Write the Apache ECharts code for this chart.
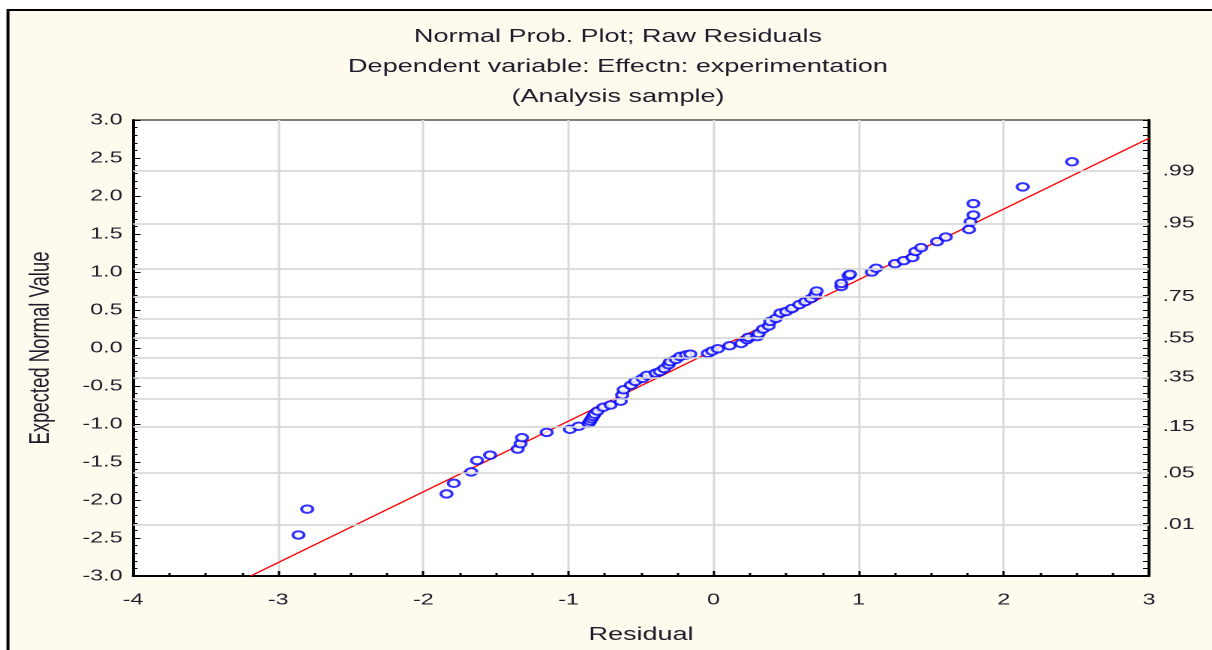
<!DOCTYPE html>
<html>
<head>
<meta charset="utf-8">
<script src="https://cdn.jsdelivr.net/npm/echarts@6/dist/echarts.min.js"></script>
<style>
html,body{margin:0;padding:0;background:#fff;overflow:hidden;width:1212px;height:650px;}
#c{width:808px;height:650px;transform:scaleX(1.5);transform-origin:0 0;}
</style>
</head>
<body>
<div id="c"></div>
<script>
// ---- data ----
const titleLines = ['Normal Prob. Plot; Raw Residuals', 'Dependent variable: Effectn: experimentation', '(Analysis sample)'];
const xAxisName = 'Residual';
const yAxisName = 'Expected Normal Value';
const residuals = [-2.86, -2.80, -1.84, -1.79, -1.67, -1.63, -1.54, -1.35, -1.33, -1.32, -1.15, -0.99, -0.93, -0.86, -0.85, -0.84, -0.83, -0.82, -0.80, -0.76, -0.71, -0.64, -0.63, -0.62, -0.57, -0.54, -0.49, -0.46, -0.40, -0.37, -0.34, -0.31, -0.30, -0.26, -0.23, -0.19, -0.16, -0.04, -0.01, 0.03, 0.11, 0.19, 0.23, 0.24, 0.30, 0.31, 0.34, 0.38, 0.39, 0.43, 0.46, 0.50, 0.54, 0.59, 0.63, 0.67, 0.70, 0.71, 0.88, 0.88, 0.93, 0.94, 1.09, 1.12, 1.25, 1.31, 1.37, 1.39, 1.43, 1.54, 1.60, 1.76, 1.77, 1.79, 1.79, 2.13, 2.47];
const expectedNormal = [-2.46, -2.12, -1.92, -1.78, -1.63, -1.48, -1.41, -1.33, -1.26, -1.18, -1.11, -1.07, -1.03, -0.99, -0.96, -0.93, -0.90, -0.87, -0.83, -0.78, -0.75, -0.70, -0.62, -0.55, -0.49, -0.44, -0.40, -0.36, -0.33, -0.31, -0.27, -0.22, -0.18, -0.15, -0.11, -0.09, -0.08, -0.07, -0.04, -0.01, 0.03, 0.06, 0.11, 0.14, 0.15, 0.19, 0.25, 0.29, 0.35, 0.39, 0.46, 0.48, 0.52, 0.57, 0.61, 0.65, 0.70, 0.75, 0.81, 0.85, 0.95, 0.97, 1.00, 1.05, 1.11, 1.15, 1.19, 1.27, 1.32, 1.40, 1.46, 1.56, 1.66, 1.75, 1.90, 2.12, 2.45];
const fitLineX = [-3.19, 3.0];
const fitLineY = [-3.0, 2.76];
const xRange = [-4, 3];
const yRange = [-3, 3];
const probLabelText = ['.01', '.05', '.15', '.35', '.55', '.75', '.95', '.99'];
const probLabelP = [0.01, 0.05, 0.15, 0.35, 0.55, 0.75, 0.95, 0.99];
const probGridP = [0.01, 0.05, 0.15, 0.25, 0.35, 0.45, 0.55, 0.65, 0.75, 0.85, 0.95, 0.99];

// inverse standard normal CDF (Acklam)
function invNorm(p) {
  const a = [-3.969683028665376e+01, 2.209460984245205e+02, -2.759285104469687e+02, 1.383577518672690e+02, -3.066479806614716e+01, 2.506628277459239e+00];
  const b = [-5.447609879822406e+01, 1.615858368580409e+02, -1.556989798598866e+02, 6.680131188771972e+01, -1.328068155288572e+01];
  const c = [-7.784894002430293e-03, -3.223964580411365e-01, -2.400758277161838e+00, -2.549732539343734e+00, 4.374664141464968e+00, 2.938163982698783e+00];
  const d = [7.784695709041462e-03, 3.224671290700398e-01, 2.445134137142996e+00, 3.754408661907416e+00];
  const pl = 0.02425, ph = 1 - pl;
  let q, r;
  if (p < pl) { q = Math.sqrt(-2 * Math.log(p)); return (((((c[0]*q+c[1])*q+c[2])*q+c[3])*q+c[4])*q+c[5]) / ((((d[0]*q+d[1])*q+d[2])*q+d[3])*q+1); }
  if (p <= ph) { q = p - 0.5; r = q*q; return (((((a[0]*r+a[1])*r+a[2])*r+a[3])*r+a[4])*r+a[5])*q / (((((b[0]*r+b[1])*r+b[2])*r+b[3])*r+b[4])*r+1); }
  q = Math.sqrt(-2 * Math.log(1 - p)); return -(((((c[0]*q+c[1])*q+c[2])*q+c[3])*q+c[4])*q+c[5]) / ((((d[0]*q+d[1])*q+d[2])*q+d[3])*q+1);
}
const probLabelZ = probLabelP.map(invNorm);
const probGridZ = probGridP.map(invNorm);

const FONT = '"Liberation Sans", Arial, sans-serif';
const TXT = '#1c1c2a';
const chart = echarts.init(document.getElementById('c'), null, {renderer: 'canvas', devicePixelRatio: 2});

const points = residuals.map((x, i) => [x, expectedNormal[i]]);
const fitLine = fitLineX.map((x, i) => [x, fitLineY[i]]);

chart.setOption({
  animation: false,
  backgroundColor: '#ffffff',
  graphic: [{
    type: 'rect', z: -10, silent: true,
    shape: {x: 5.3, y: 10, width: 2000, height: 2000},
    style: {fill: '#fffaee', stroke: '#000', lineWidth: 2}
  }],
  title: titleLines.map((t, i) => ({
    text: t, left: 407, top: 23 + i * 30, textAlign: 'center',
    textStyle: {fontFamily: FONT, fontSize: 18, fontWeight: 'normal', color: TXT}
  })),
  grid: {left: 88.7, right: 42, top: 120, bottom: 74, show: true, backgroundColor: '#ffffff', borderColor: '#000', borderWidth: 1},
  xAxis: {
    type: 'value', min: xRange[0], max: xRange[1], interval: 1,
    name: xAxisName, nameLocation: 'middle', nameGap: 50,
    nameTextStyle: {fontFamily: FONT, fontSize: 18, color: TXT},
    axisLine: {show: true, onZero: false, lineStyle: {color: '#000', width: 2}},
    axisTick: {show: true, inside: true, length: 5, lineStyle: {color: '#000', width: 1.5}},
    minorTick: {show: true, splitNumber: 4, length: 3, lineStyle: {color: '#000', width: 1.5}},
    axisLabel: {fontFamily: FONT, fontSize: 15.5, color: TXT, margin: 16},
    splitLine: {show: true, lineStyle: {color: '#d9d9d9', width: 1.5}}
  },
  yAxis: [{
    type: 'value', min: yRange[0], max: yRange[1], interval: 0.5, position: 'left',
    name: yAxisName, nameLocation: 'middle', nameGap: 52, nameRotate: 90,
    nameTextStyle: {fontFamily: FONT, fontSize: 18.5, color: TXT},
    axisLine: {show: true, onZero: false, lineStyle: {color: '#000', width: 2}},
    axisTick: {show: true, inside: true, length: 5, lineStyle: {color: '#000', width: 1}},
    minorTick: {show: true, splitNumber: 5, length: 3, lineStyle: {color: '#000', width: 1}},
    axisLabel: {fontFamily: FONT, fontSize: 15.5, color: TXT, margin: 7, formatter: v => v.toFixed(1)},
    splitLine: {show: false}
  }, {
    type: 'value', min: yRange[0], max: yRange[1], interval: 0.1, position: 'right',
    axisLine: {show: true, onZero: false, lineStyle: {color: '#000', width: 2}},
    axisTick: {show: true, inside: true, length: 4, lineStyle: {color: '#000', width: 1}},
    axisLabel: {
      fontFamily: FONT, fontSize: 15.5, color: TXT, margin: 9,
      customValues: probLabelZ,
      formatter: v => { for (let i = 0; i < probLabelZ.length; i++) { if (Math.abs(probLabelZ[i] - v) < 1e-6) return probLabelText[i]; } return ''; }
    },
    splitLine: {show: false}
  }],
  series: [{
    type: 'line', yAxisIndex: 1, data: [], silent: true,
    markLine: {
      silent: true, symbol: ['none', 'none'], animation: false,
      label: {show: false},
      lineStyle: {color: '#d4d4d4', width: 1.5, type: 'solid'},
      data: probGridZ.map(z => ({yAxis: z}))
    }
  }, {
    type: 'line', data: fitLine, showSymbol: false, symbol: 'none', z: 3,
    lineStyle: {color: '#ff0000', width: 1.2}, silent: true
  }, {
    type: 'scatter', data: points, z: 4,
    symbol: 'emptyCircle', symbolSize: 7.5,
    itemStyle: {color: '#0000ff', borderColor: '#0000ff', borderWidth: 1.3}
  }]
});
</script>
</body>
</html>
